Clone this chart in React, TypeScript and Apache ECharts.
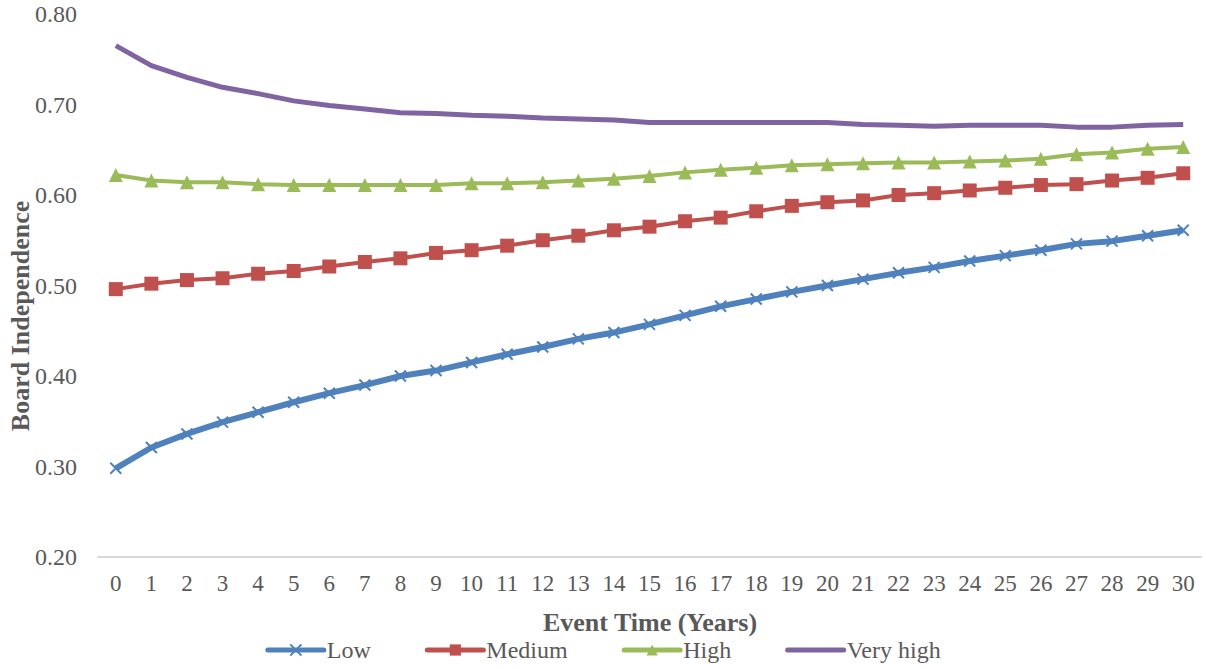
import React, { useEffect, useRef } from "react";
import * as echarts from "echarts";

const categories = Array.from({ length: 31 }, (_, i) => String(i));
const lowValues = [0.298, 0.321, 0.336, 0.349, 0.360, 0.371, 0.381, 0.390, 0.400, 0.406, 0.415, 0.424, 0.432, 0.441, 0.448, 0.457, 0.467, 0.477, 0.485, 0.493, 0.500, 0.507, 0.514, 0.520, 0.527, 0.533, 0.539, 0.546, 0.549, 0.555, 0.561];
const mediumValues = [0.496, 0.502, 0.506, 0.508, 0.513, 0.516, 0.521, 0.526, 0.530, 0.536, 0.539, 0.544, 0.550, 0.555, 0.561, 0.565, 0.571, 0.575, 0.582, 0.588, 0.592, 0.594, 0.600, 0.602, 0.605, 0.608, 0.611, 0.612, 0.616, 0.619, 0.624];
const highValues = [0.622, 0.616, 0.614, 0.614, 0.612, 0.611, 0.611, 0.611, 0.611, 0.611, 0.613, 0.613, 0.614, 0.616, 0.618, 0.621, 0.625, 0.628, 0.630, 0.633, 0.634, 0.635, 0.636, 0.636, 0.637, 0.638, 0.640, 0.645, 0.647, 0.651, 0.653];
const veryHighValues = [0.765, 0.743, 0.730, 0.719, 0.712, 0.704, 0.699, 0.695, 0.691, 0.690, 0.688, 0.687, 0.685, 0.684, 0.683, 0.680, 0.680, 0.680, 0.680, 0.680, 0.680, 0.678, 0.677, 0.676, 0.677, 0.677, 0.677, 0.675, 0.675, 0.677, 0.678];
const seriesNames = ["Low", "Medium", "High", "Very high"];

const FONT = "Liberation Serif";

export default function App() {
  const ref = useRef<HTMLDivElement>(null);
  useEffect(() => {
    document.body.style.margin = "0";
    if (!ref.current) return;
    const chart = echarts.init(ref.current, undefined, { renderer: "svg" });
    const crossPath = "path://M0,0L10,10M10,0L0,10";
    chart.setOption({
      animation: false,
      textStyle: { fontFamily: FONT },
      grid: { left: 98, right: 5, top: 14, bottom: 112, containLabel: false },
      xAxis: {
        type: "category",
        data: categories,
        boundaryGap: true,
        axisLine: { show: true, lineStyle: { color: "#D9D9D9", width: 2 } },
        axisTick: { show: false },
        axisLabel: { color: "#595959", fontSize: 23, fontFamily: FONT, margin: 15, interval: 0 },
        splitLine: { show: false },
      },
      yAxis: {
        type: "value",
        min: 0.2,
        max: 0.8,
        interval: 0.1,
        axisLine: { show: false },
        axisTick: { show: false },
        splitLine: { show: false },
        axisLabel: {
          color: "#595959",
          fontSize: 24,
          fontFamily: FONT,
          margin: 21,
          formatter: (v: number) => v.toFixed(2),
        },
      },
      legend: {
        bottom: 2,
        left: "center",
        itemWidth: 56,
        itemHeight: 14,
        itemGap: 54,
        lineStyle: { width: 5, cap: "round" },
        textStyle: { color: "#595959", fontSize: 24, fontFamily: FONT, padding: [0, 0, 0, -2] },
        data: [
          { name: seriesNames[0] },
          { name: seriesNames[1] },
          { name: seriesNames[2] },
          { name: seriesNames[3], itemStyle: { opacity: 0 } },
        ],
      },
      graphic: [
        {
          type: "text",
          x: 20,
          y: 316,
          rotation: Math.PI / 2,
          style: {
            text: "Board Independence",
            font: `bold 26px ${FONT}`,
            fill: "#595959",
            align: "center",
            verticalAlign: "middle",
          },
        },
        {
          type: "text",
          x: 650,
          y: 622,
          style: {
            text: "Event Time (Years)",
            font: `bold 26px ${FONT}`,
            fill: "#595959",
            align: "center",
            verticalAlign: "middle",
          },
        },
      ],
      series: [
        {
          name: seriesNames[0],
          type: "line",
          data: lowValues,
          color: "#4F81BD",
          lineStyle: { width: 6, color: "#4F81BD" },
          symbol: crossPath,
          symbolSize: 11,
          itemStyle: { color: "#4F81BD", borderColor: "#4F81BD", borderWidth: 2 },
          z: 4,
        },
        {
          name: seriesNames[1],
          type: "line",
          data: mediumValues,
          color: "#C0504D",
          lineStyle: { width: 4, color: "#C0504D" },
          symbol: "rect",
          symbolSize: 14,
          itemStyle: { color: "#C0504D" },
          z: 3,
        },
        {
          name: seriesNames[2],
          type: "line",
          data: highValues,
          color: "#9BBB59",
          lineStyle: { width: 4, color: "#9BBB59" },
          symbol: "triangle",
          symbolSize: 14,
          itemStyle: { color: "#9BBB59" },
          z: 2,
        },
        {
          name: seriesNames[3],
          type: "line",
          data: veryHighValues,
          color: "#8064A2",
          lineStyle: { width: 5, color: "#8064A2" },
          symbol: "none",
          showSymbol: false,
          itemStyle: { color: "#8064A2" },
          z: 1,
        },
      ],
    });
    return () => chart.dispose();
  }, []);
  return <div ref={ref} style={{ width: 1206, height: 669 }} />;
}
